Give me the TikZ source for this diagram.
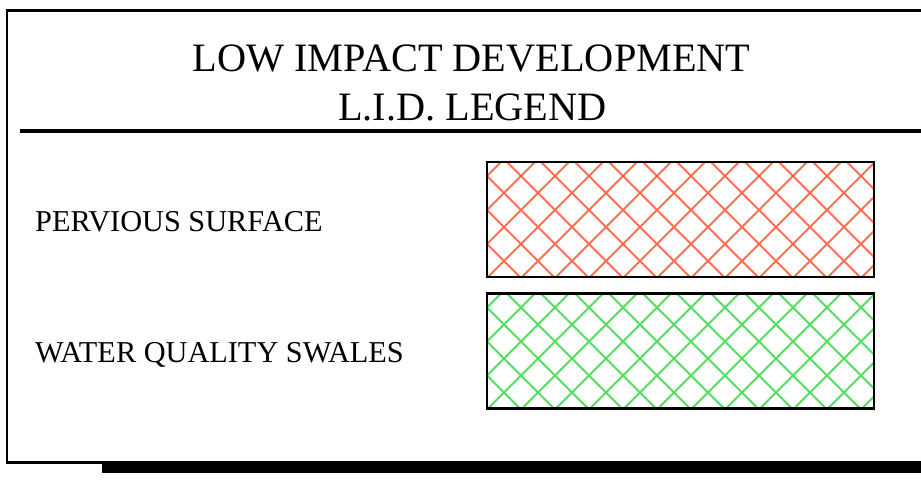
\documentclass[tikz,border=0pt]{standalone}
\usepackage{fontspec}
\setmainfont{Liberation Serif}
\usetikzlibrary{positioning}

\definecolor{hatchred}{RGB}{255,112,82}
\definecolor{hatchgreen}{RGB}{84,220,96}

\begin{document}
\begin{tikzpicture}[
    x=1pt, y=1pt,
    frame/.style={draw, line width=2.3pt},
    swatch/.style={rectangle, draw, line width=2.8pt, minimum width=387pt, minimum height=115pt, inner sep=0pt},
    hatch/.style={path picture={
        \foreach \k in {-5,...,16} {
            \draw[#1, line width=1.8pt] ([xshift=\k*34pt+20pt]path picture bounding box.north west) ++(-200pt,200pt) -- ++(400pt,-400pt);
            \draw[#1, line width=1.8pt] ([xshift=\k*34pt+14pt]path picture bounding box.north west) ++(200pt,200pt) -- ++(-400pt,-400pt);
        }}},
    label/.style={anchor=base west, inner sep=0pt, font=\fontsize{30.3}{36}\selectfont},
    heading/.style={anchor=base, inner sep=0pt, font=\fontsize{40.3}{48}\selectfont}
]
\useasboundingbox (0,0) rectangle (921,485);

% Frame and shadow
\fill (102,12) rectangle (925,23);
\draw[frame] (930,474.5) -- (7,474.5) -- (7,22.5) -- (930,22.5);
\draw[line width=4pt] (20,354) -- (930,354);

% Heading
\node[heading] (title) at (471.5,413) {LOW IMPACT DEVELOPMENT};
\node[heading] (subtitle) at (472.5,364) {L.I.D. LEGEND};

% Legend entries
\node[swatch, hatch=hatchred] (pervious) at (680.5,265.5) {};
\node[swatch, hatch=hatchgreen] (swales) at (680.5,134) {};

\node[label] (perviouslabel) at (35,253) {PERVIOUS SURFACE};
\node[label] (swaleslabel) at (35,123) {WATER QUALITY SWALES};

\end{tikzpicture}
\end{document}
